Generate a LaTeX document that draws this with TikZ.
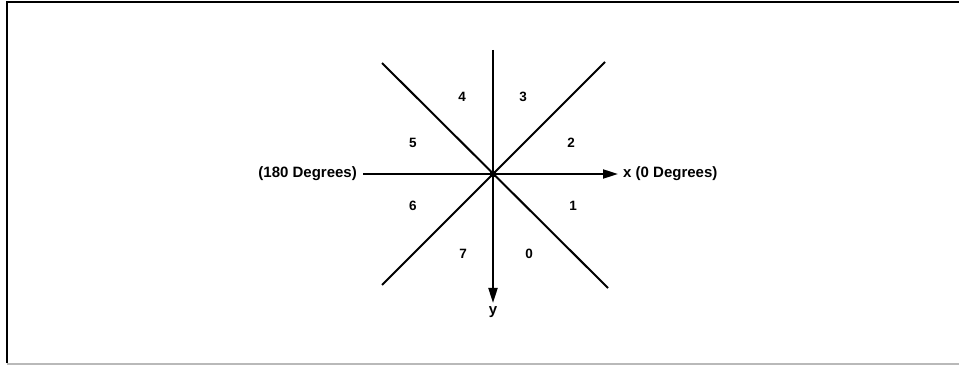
\documentclass[tikz,border=0pt]{standalone}
\usepackage{fontspec}
\setmainfont{Liberation Sans}
\usetikzlibrary{arrows.meta}
\begin{document}
\begin{tikzpicture}[x=1pt,y=-1pt,
  axis/.style={line width=2pt,black},
  arr/.style={axis,-{Triangle[length=15pt,width=9pt]}},
  lbl/.style={font=\bfseries\fontsize{15}{17}\selectfont,inner sep=0pt},
  num/.style={font=\bfseries\fontsize{13.5}{15}\selectfont,inner sep=0pt}]
\useasboundingbox (0,0) rectangle (959,366);
% frame
\draw[line width=2pt] (959,2.5) -- (6.5,2.5) -- (6.5,363);
\draw[line width=1.2pt,gray!55] (6.5,364) -- (959,364);
% center and ends
\coordinate (c) at (493,174);
\coordinate (top) at (493,50);
\coordinate (bot) at (493,303);
\coordinate (left) at (363,174);
\coordinate (right) at (618,174);
\coordinate (ul) at (382,63);
\coordinate (ur) at (605,62);
\coordinate (ll) at (382,285);
\coordinate (lr) at (608,288);
% lines
\draw[axis] (top) -- (c);
\draw[arr] (c) -- (bot);
\draw[axis] (left) -- (c);
\draw[arr] (c) -- (right);
\draw[axis] (ul) -- (lr);
\draw[axis] (ll) -- (ur);
\fill (c) circle (3.5);
% labels
\node[lbl,anchor=east] (l180) at (357,174) {(180 Degrees)};
\node[lbl,anchor=west] (l0) at (623,174) {x (0 Degrees)};
\node[lbl] (ly) at (493,312) {y};
\node[num] (n4) at (462,97) {4};
\node[num] (n3) at (523,97) {3};
\node[num] (n5) at (413,143) {5};
\node[num] (n2) at (571,143) {2};
\node[num] (n6) at (413,206) {6};
\node[num] (n1) at (573,206) {1};
\node[num] (n7) at (463,254) {7};
\node[num] (n0) at (529,254) {0};
\end{tikzpicture}
\end{document}
